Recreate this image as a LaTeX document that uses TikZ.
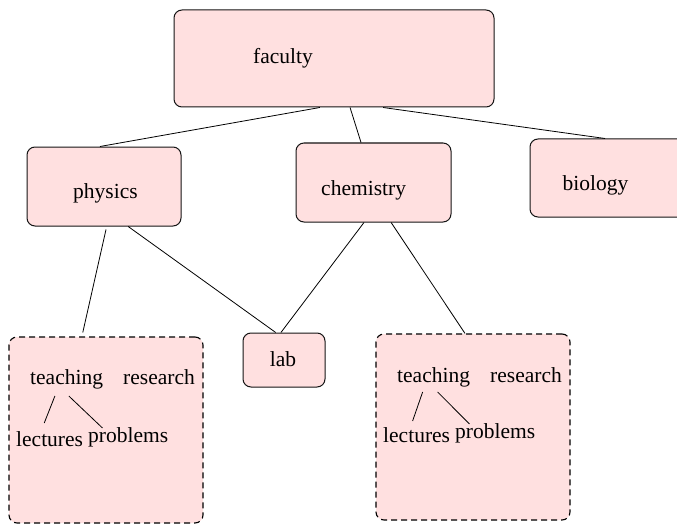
\documentclass[tikz,border=0pt]{standalone}
\usepackage{fontspec}
\setmainfont{Liberation Serif}
\usetikzlibrary{calc}
\definecolor{boxfill}{RGB}{255,224,224}
\definecolor{edgegray}{RGB}{20,20,20}
\begin{document}
\begin{tikzpicture}[x=1pt,y=-1pt,
  box/.style={draw=edgegray, fill=boxfill, rounded corners=8pt, line width=1pt, inner sep=0pt},
  cluster/.style={box, draw=black, line width=1.1pt, dash pattern=on 6pt off 4pt},
  txt/.style={inner sep=0pt, anchor=base west, font=\fontsize{21.5}{26}\selectfont},
  conn/.style={draw=black, line width=0.8pt}]
\useasboundingbox (0,0) rectangle (677,524);
% boxes
\node[box, minimum width=320pt, minimum height=97pt] (faculty) at (334,58.5) {};
\node[box, minimum width=154pt, minimum height=79pt] (physics) at (104,186.5) {};
\node[box, minimum width=155pt, minimum height=79pt] (chemistry) at (373.5,182.5) {};
\node[box, minimum width=160pt, minimum height=78pt] (biology) at (610,178) {};
\node[box, minimum width=82pt, minimum height=54pt] (lab) at (284,360) {};
\node[cluster, minimum width=194pt, minimum height=186pt] (clusterL) at (106,430) {};
\node[cluster, minimum width=194pt, minimum height=186pt] (clusterR) at (473,427) {};
% labels
\node[txt] (tfaculty) at (253,64) {faculty};
\node[txt] (tphysics) at (73,198) {physics};
\node[txt] (tchemistry) at (321,195) {chemistry};
\node[txt] (tbiology) at (562.5,190) {biology};
\node[txt, anchor=base] (tlab) at (283,366) {lab};
\node[txt] (teachL) at (30,384) {teaching};
\node[txt] (resL) at (123,384) {research};
\node[txt] (lectL) at (16,446) {lectures};
\node[txt] (probL) at (88,442) {problems};
\node[txt] (teachR) at (397,382) {teaching};
\node[txt] (resR) at (490,382) {research};
\node[txt] (lectR) at (383,442) {lectures};
\node[txt] (probR) at (455,438) {problems};
% connectors
\draw[conn] ($(faculty.south west)!0.456!(faculty.south east)$) -- ($(physics.north west)!0.474!(physics.north east)$);
\draw[conn] ($(faculty.south west)!0.55!(faculty.south east)$) -- ($(chemistry.north west)!0.42!(chemistry.north east)$);
\draw[conn] ($(faculty.south west)!0.653!(faculty.south east)$) -- ($(biology.north west)!0.469!(biology.north east)$);
\draw[conn] ($(physics.south west)!0.513!(physics.south east)+(0,3)$) -- ($(clusterL.north west)!0.381!(clusterL.north east)+(0,-4)$);
\draw[conn] ($(physics.south west)!0.656!(physics.south east)$) -- ($(lab.north west)!0.40!(lab.north east)$);
\draw[conn] ($(chemistry.south west)!0.439!(chemistry.south east)$) -- ($(lab.north west)!0.463!(lab.north east)$);
\draw[conn] ($(chemistry.south west)!0.613!(chemistry.south east)$) -- ($(clusterR.north west)!0.459!(clusterR.north east)$);
% inside clusters
\draw[conn] ($(teachL.base west)!0.34!(teachL.base east)+(0,12)$) -- ($(lectL.base west)!0.42!(lectL.base east)+(0,-23)$);
\draw[conn] ($(teachL.base west)!0.53!(teachL.base east)+(0,12)$) -- ($(probL.base west)!0.18!(probL.base east)+(0,-14)$);
\draw[conn] ($(teachR.base west)!0.35!(teachR.base east)+(0,10)$) -- ($(lectR.base west)!0.44!(lectR.base east)+(0,-21)$);
\draw[conn] ($(teachR.base west)!0.555!(teachR.base east)+(0,10)$) -- ($(probR.base west)!0.18!(probR.base east)+(0,-14)$);
\end{tikzpicture}
\end{document}
